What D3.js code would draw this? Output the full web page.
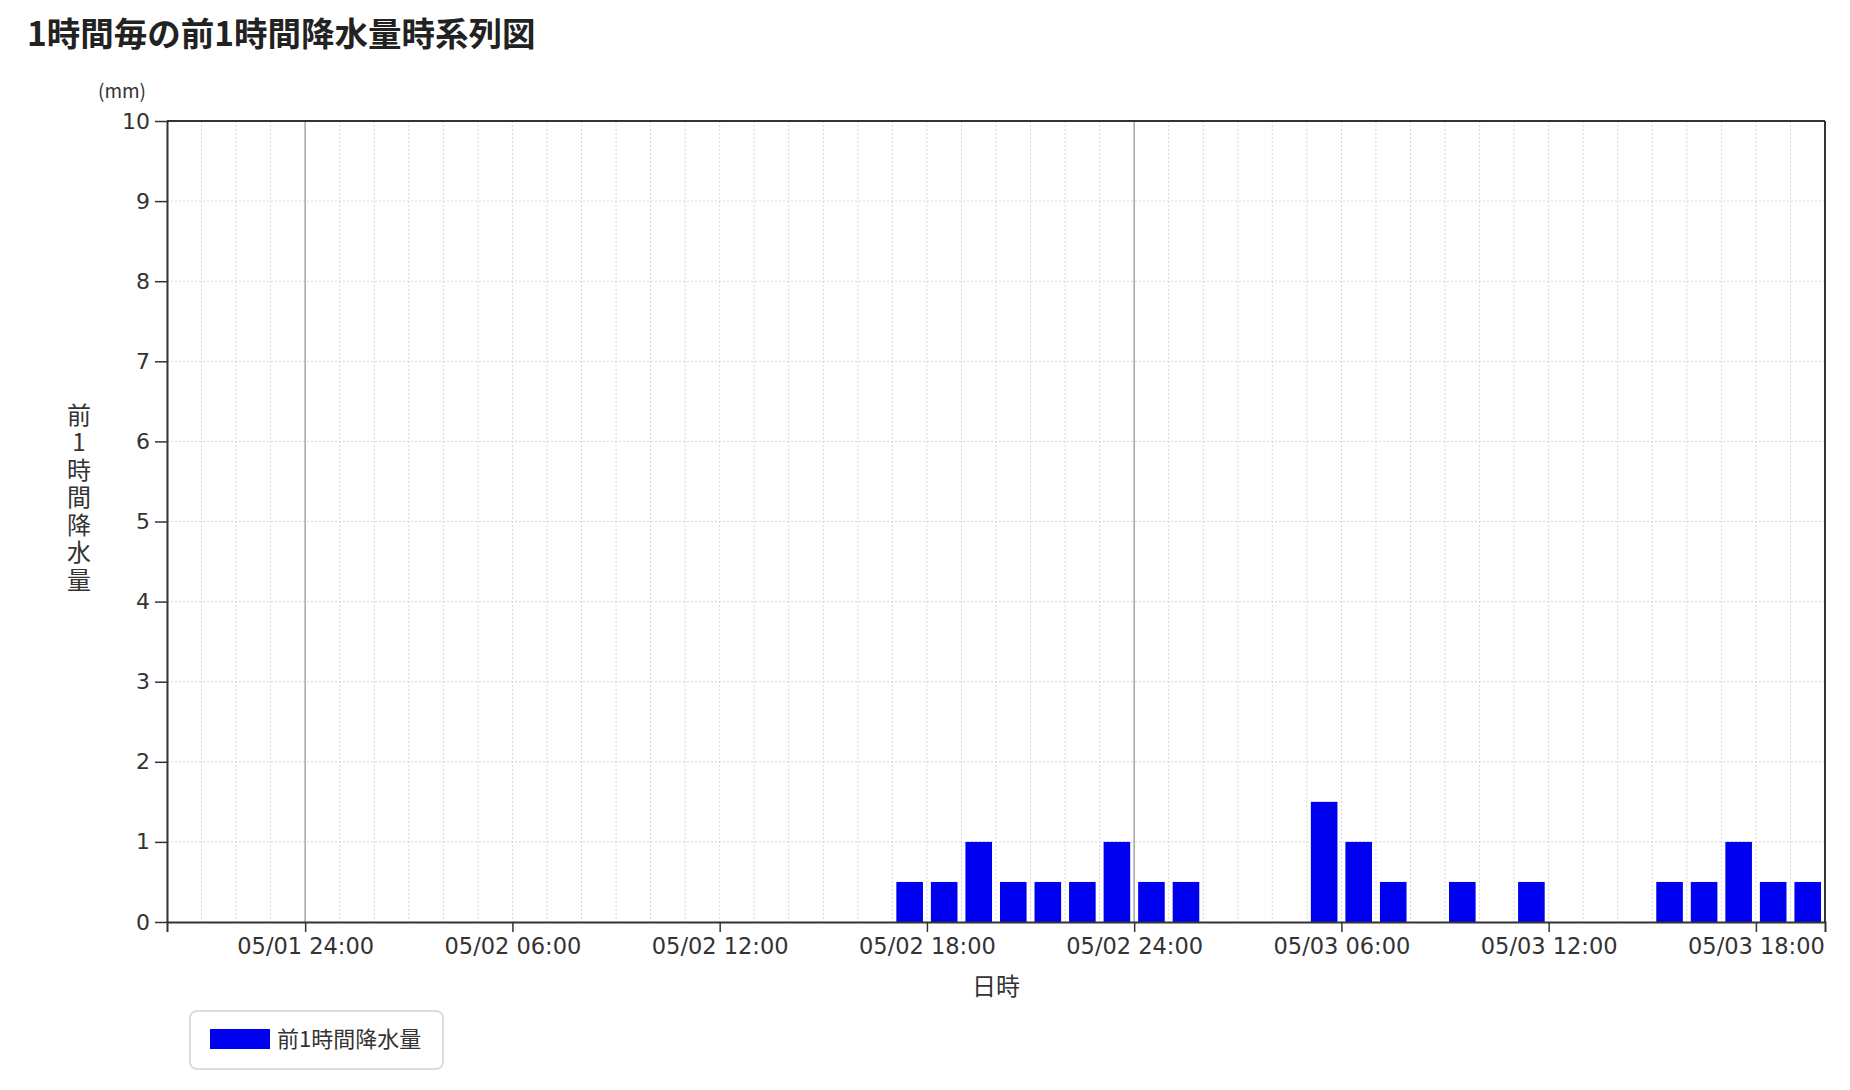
<!DOCTYPE html>
<html>
<head>
<meta charset="utf-8">
<script src="https://cdn.jsdelivr.net/npm/d3@7"></script>
<style>
  body { margin: 0; background: #fff; }
  svg text { font-family: "Noto Sans CJK JP", "Noto Sans", sans-serif; fill: #333; }
  svg .tick text { font-family: "DejaVu Sans", sans-serif; fill: #333; }
</style>
</head>
<body>
<div id="chart"></div>
<script>

// hourly end times (前1時間 = the hour that ends at this time)
var times = [
  "05/01 21:00", "05/01 22:00", "05/01 23:00", "05/02 00:00",
  "05/02 01:00", "05/02 02:00", "05/02 03:00", "05/02 04:00", "05/02 05:00", "05/02 06:00",
  "05/02 07:00", "05/02 08:00", "05/02 09:00", "05/02 10:00", "05/02 11:00", "05/02 12:00",
  "05/02 13:00", "05/02 14:00", "05/02 15:00", "05/02 16:00", "05/02 17:00", "05/02 18:00",
  "05/02 19:00", "05/02 20:00", "05/02 21:00", "05/02 22:00", "05/02 23:00", "05/03 00:00",
  "05/03 01:00", "05/03 02:00", "05/03 03:00", "05/03 04:00", "05/03 05:00", "05/03 06:00",
  "05/03 07:00", "05/03 08:00", "05/03 09:00", "05/03 10:00", "05/03 11:00", "05/03 12:00",
  "05/03 13:00", "05/03 14:00", "05/03 15:00", "05/03 16:00", "05/03 17:00", "05/03 18:00",
  "05/03 19:00", "05/03 20:00"
];

var rain = [
  0, 0, 0, 0,
  0, 0, 0, 0, 0, 0,
  0, 0, 0, 0, 0, 0,
  0, 0, 0, 0, 0, 0.5,
  0.5, 1.0, 0.5, 0.5, 0.5, 1.0,
  0.5, 0.5, 0, 0, 0, 1.5,
  1.0, 0.5, 0, 0.5, 0, 0.5,
  0, 0, 0, 0.5, 0.5, 1.0,
  0.5, 0.5
];

var xStart = "05/01 20:00";
var xEnd = "05/03 20:00";
var xTickTimes = ["05/02 00:00", "05/02 06:00", "05/02 12:00", "05/02 18:00",
                  "05/03 00:00", "05/03 06:00", "05/03 12:00", "05/03 18:00"];
var xTickLabels = ["05/01 24:00", "05/02 06:00", "05/02 12:00", "05/02 18:00",
                   "05/02 24:00", "05/03 06:00", "05/03 12:00", "05/03 18:00"];
var dayLines = ["05/02 00:00", "05/03 00:00"];
var yTicks = [0, 1, 2, 3, 4, 5, 6, 7, 8, 9, 10];

var title = "1時間毎の前1時間降水量時系列図";
var yLabel = "前1時間降水量";
var xLabel = "日時";
var unitLabel = "(mm)";
var legendLabel = "前1時間降水量";

var parse = d3.timeParse("%Y/%m/%d %H:%M");
function toDate(s) { return parse("2024/" + s); }

var width = 1850, height = 1090;
var margin = {top: 121, right: 25, bottom: 168, left: 167};
var plotW = width - margin.left - margin.right;
var plotH = height - margin.top - margin.bottom;

var svg = d3.select("#chart").append("svg")
  .attr("width", width)
  .attr("height", height);

svg.append("text")
  .attr("x", 27)
  .attr("y", 46)
  .style("font-size", "33.5px")
  .style("font-weight", "bold")
  .style("fill", "#222")
  .text(title);

var g = svg.append("g").attr("transform", "translate(" + margin.left + "," + margin.top + ")");

var x = d3.scaleTime()
  .domain([toDate(xStart), toDate(xEnd)])
  .range([0, plotW]);

var y = d3.scaleLinear()
  .domain([0, 10])
  .range([plotH, 0]);

var hourW = x(toDate(times[1])) - x(toDate(times[0]));
var pad = hourW * 0.115;

// hourly dotted grid
var hourGrid = [toDate(xStart)].concat(times.map(toDate));
g.append("g").selectAll("line")
  .data(hourGrid)
  .enter().append("line")
  .attr("x1", function(d) { return x(d); })
  .attr("x2", function(d) { return x(d); })
  .attr("y1", 0)
  .attr("y2", plotH)
  .style("stroke", "#d6d6d6")
  .style("stroke-dasharray", "2,2");

g.append("g").selectAll("line")
  .data(yTicks.slice(1, -1))
  .enter().append("line")
  .attr("x1", 0)
  .attr("x2", plotW)
  .attr("y1", function(d) { return y(d); })
  .attr("y2", function(d) { return y(d); })
  .style("stroke", "#d6d6d6")
  .style("stroke-dasharray", "2,2");

// day boundaries
g.append("g").selectAll("line")
  .data(dayLines)
  .enter().append("line")
  .attr("x1", function(d) { return x(toDate(d)); })
  .attr("x2", function(d) { return x(toDate(d)); })
  .attr("y1", 0)
  .attr("y2", plotH)
  .style("stroke", "#a8a8a8")
  .style("stroke-width", 1.5);

// bars
g.append("g").selectAll("rect")
  .data(times.map(function(t, i) { return {t: toDate(t), v: rain[i]}; }).filter(function(d) { return d.v > 0; }))
  .enter().append("rect")
  .attr("x", function(d) { return x(d.t) - hourW + pad; })
  .attr("width", hourW - 2 * pad)
  .attr("y", function(d) { return y(d.v); })
  .attr("height", function(d) { return plotH - y(d.v); })
  .style("fill", "#0000f0");

// frame top / right
g.append("line").attr("x1", 0).attr("x2", plotW).attr("y1", 0).attr("y2", 0)
  .style("stroke", "#333").style("stroke-width", 2);
g.append("line").attr("x1", plotW).attr("x2", plotW).attr("y1", 0).attr("y2", plotH)
  .style("stroke", "#333").style("stroke-width", 2);

// axes
var yAxis = g.append("g")
  .call(d3.axisLeft(y).tickValues(yTicks).tickSize(12).tickSizeOuter(0).tickPadding(5));
yAxis.selectAll("text").style("font-size", "22px");

var xAxis = g.append("g")
  .attr("transform", "translate(0," + plotH + ")")
  .call(d3.axisBottom(x)
    .tickValues(xTickTimes.map(toDate))
    .tickFormat(function(d, i) { return xTickLabels[i]; })
    .tickSize(10).tickSizeOuter(10).tickPadding(6));
xAxis.selectAll("text").style("font-size", "22.5px");

[yAxis, xAxis].forEach(function(a) {
  a.select(".domain").style("stroke", "#333").style("stroke-width", 2);
  a.selectAll(".tick line").style("stroke", "#333").style("stroke-width", 1.5);
});

svg.append("text")
  .attr("x", 122)
  .attr("y", 98)
  .attr("text-anchor", "middle")
  .style("font-size", "19px")
  .text(unitLabel);

// vertical axis title, one text element written top to bottom
svg.append("text")
  .attr("x", 79)
  .attr("y", 499)
  .attr("text-anchor", "middle")
  .style("writing-mode", "vertical-rl")
  .style("text-orientation", "upright")
  .style("letter-spacing", "3.5px")
  .style("font-size", "24px")
  .text(yLabel);

svg.append("text")
  .attr("x", margin.left + plotW / 2)
  .attr("y", 995)
  .attr("text-anchor", "middle")
  .style("font-size", "24px")
  .text(xLabel);

// legend
var lg = svg.append("g");
lg.append("rect")
  .attr("x", 190).attr("y", 1011)
  .attr("width", 253).attr("height", 58)
  .attr("rx", 7)
  .style("fill", "#fff")
  .style("stroke", "#dcdcdc")
  .style("stroke-width", 2);
lg.append("rect")
  .attr("x", 210).attr("y", 1029)
  .attr("width", 60).attr("height", 20)
  .style("fill", "#0000f0");
lg.append("text")
  .attr("x", 277).attr("y", 1047)
  .style("font-size", "22px")
  .text(legendLabel);

</script>
</body>
</html>
